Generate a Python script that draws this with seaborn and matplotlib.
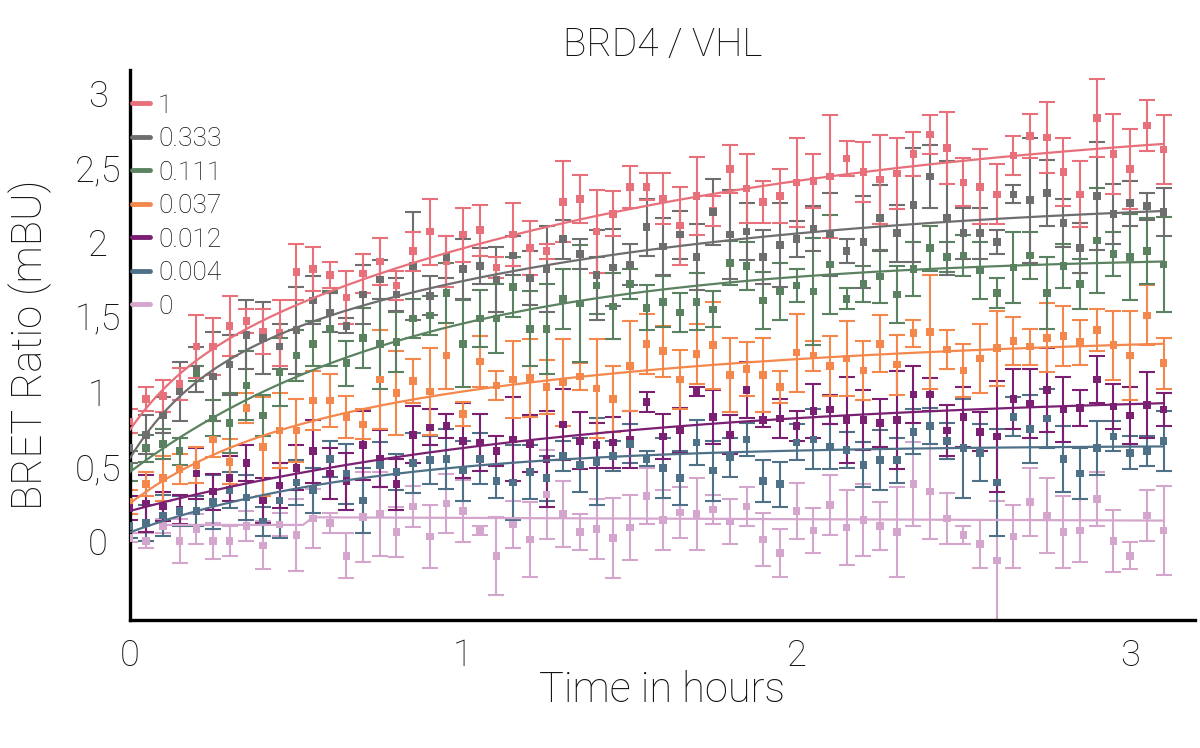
import numpy as np
import pandas as pd
import matplotlib as mpl
mpl.use("Agg")
import matplotlib.pyplot as plt
import seaborn as sns

sns.set_style("white")
plt.rcParams["font.family"] = ["Roboto", "DejaVu Sans"]
plt.rcParams["font.weight"] = "light"
plt.rcParams["axes.titleweight"] = "light"
plt.rcParams["axes.labelweight"] = "light"

# sampling every 3 minutes, 0 .. 3.1 h
time_h = np.round(np.arange(63) * 0.05, 2)

conc_labels = ["1", "0.333", "0.111", "0.037", "0.012", "0.004", "0"]
colors = ["#e8707a", "#6e6e6e", "#5b8260", "#f4874b", "#7b1f73", "#4e7187", "#d5a6cd"]

ratio_1 = [0.80, 0.95, 0.97, 1.05, 1.30, 1.30, 1.44, 1.47, 1.40, 1.39, 1.80, 1.82, 1.78, 1.63, 1.79, 1.87,
           1.71, 1.94, 2.07, 1.87, 2.05, 2.08, 1.83, 2.05, 1.96, 1.94, 2.27, 2.29, 2.07, 2.19, 2.37, 2.37,
           2.29, 2.11, 2.31, 2.21, 2.49, 2.36, 2.27, 2.31, 2.40, 2.41, 2.44, 2.56, 2.47, 2.42, 2.46, 2.59,
           2.72, 2.63, 2.40, 2.37, 2.32, 2.58, 2.71, 2.70, 2.47, 2.32, 2.83, 2.59, 2.49, 2.78, 2.62]
sd_1 = [0.08, 0.08, 0.11, 0.11, 0.21, 0.19, 0.20, 0.08, 0.15, 0.22, 0.19, 0.15, 0.09, 0.18, 0.13, 0.16,
        0.10, 0.13, 0.22, 0.17, 0.18, 0.17, 0.07, 0.21, 0.18, 0.05, 0.27, 0.16, 0.28, 0.15, 0.14, 0.09,
        0.17, 0.26, 0.26, 0.10, 0.16, 0.23, 0.14, 0.18, 0.30, 0.18, 0.41, 0.12, 0.20, 0.30, 0.24, 0.15,
        0.13, 0.24, 0.16, 0.25, 0.20, 0.13, 0.15, 0.24, 0.23, 0.22, 0.26, 0.27, 0.27, 0.17, 0.23]

ratio_0333 = [0.62, 0.71, 0.84, 1.00, 1.15, 1.10, 1.18, 1.38, 1.36, 1.30, 1.41, 1.61, 1.53, 1.44, 1.65, 1.75,
              1.65, 1.84, 1.64, 1.90, 1.82, 1.84, 1.75, 1.91, 1.76, 1.82, 2.02, 1.92, 1.78, 1.83, 1.85, 2.10,
              1.97, 2.05, 1.90, 2.20, 2.05, 2.07, 1.90, 1.98, 2.02, 2.09, 2.05, 1.94, 2.00, 2.16, 2.06, 2.25,
              2.44, 2.16, 2.06, 2.06, 2.00, 2.32, 2.28, 2.33, 2.13, 1.96, 2.31, 2.19, 2.26, 2.24, 2.20]
sd_0333 = [0.10, 0.13, 0.12, 0.20, 0.15, 0.30, 0.20, 0.23, 0.24, 0.15, 0.29, 0.16, 0.13, 0.05, 0.20, 0.13,
           0.11, 0.36, 0.13, 0.14, 0.20, 0.12, 0.22, 0.13, 0.18, 0.29, 0.13, 0.10, 0.30, 0.26, 0.14, 0.19,
           0.19, 0.16, 0.22, 0.22, 0.30, 0.19, 0.18, 0.28, 0.12, 0.15, 0.28, 0.08, 0.31, 0.22, 0.19, 0.38,
           0.21, 0.38, 0.17, 0.17, 0.08, 0.06, 0.42, 0.22, 0.16, 0.17, 0.36, 0.20, 0.15, 0.09, 0.16]

ratio_0111 = [0.50, 0.62, 0.65, 0.60, 1.12, 0.82, 0.79, 1.04, 0.84, 1.13, 1.24, 1.32, 1.42, 1.19, 1.36, 1.32,
              1.33, 1.49, 1.51, 1.66, 1.32, 1.49, 1.49, 1.70, 1.42, 1.42, 1.62, 1.59, 1.71, 1.57, 1.72, 1.56,
              1.60, 1.53, 1.60, 1.55, 1.86, 1.84, 1.61, 1.67, 1.71, 1.67, 1.85, 1.62, 1.72, 1.77, 1.65, 1.82,
              1.96, 1.90, 1.91, 1.81, 1.66, 1.83, 1.91, 1.66, 1.84, 1.72, 2.01, 1.92, 1.90, 1.94, 1.85]
sd_0111 = [0.10, 0.09, 0.10, 0.09, 0.05, 0.12, 0.20, 0.23, 0.14, 0.23, 0.17, 0.15, 0.25, 0.15, 0.20, 0.30,
           0.20, 0.13, 0.13, 0.20, 0.29, 0.19, 0.23, 0.20, 0.25, 0.30, 0.20, 0.39, 0.19, 0.22, 0.10, 0.15,
           0.17, 0.13, 0.19, 0.12, 0.15, 0.16, 0.19, 0.19, 0.11, 0.36, 0.33, 0.07, 0.12, 0.18, 0.19, 0.18,
           0.15, 0.10, 0.14, 0.19, 0.10, 0.24, 0.16, 0.24, 0.15, 0.17, 0.35, 0.15, 0.29, 0.22, 0.32]

ratio_0037 = [0.26, 0.38, 0.42, 0.48, 0.51, 0.68, 0.53, 0.89, 0.63, 0.74, 0.74, 0.94, 0.94, 0.83, 0.78, 1.08,
              0.99, 1.07, 1.00, 1.24, 0.85, 1.20, 1.04, 1.08, 1.09, 1.03, 1.06, 1.10, 1.02, 0.95, 1.17, 1.32,
              1.27, 1.08, 1.25, 1.31, 1.11, 1.15, 1.11, 1.03, 1.26, 1.24, 1.17, 1.22, 1.14, 1.32, 1.18, 1.39,
              1.40, 1.28, 1.14, 1.22, 1.29, 1.34, 1.30, 1.36, 1.37, 1.33, 1.41, 1.31, 1.24, 1.51, 1.19]
sd_0037 = [0.08, 0.08, 0.15, 0.10, 0.12, 0.12, 0.15, 0.10, 0.33, 0.25, 0.21, 0.20, 0.18, 0.14, 0.10, 0.33,
           0.28, 0.15, 0.29, 0.22, 0.08, 0.17, 0.10, 0.26, 0.26, 0.18, 0.29, 0.09, 0.33, 0.22, 0.30, 0.20,
           0.17, 0.20, 0.20, 0.29, 0.25, 0.18, 0.25, 0.11, 0.26, 0.10, 0.20, 0.25, 0.20, 0.19, 0.20, 0.09,
           0.38, 0.13, 0.18, 0.23, 0.25, 0.16, 0.12, 0.23, 0.20, 0.15, 0.14, 0.23, 0.30, 0.20, 0.17]

ratio_0012 = [0.22, 0.25, 0.23, 0.21, 0.45, 0.33, 0.42, 0.52, 0.27, 0.37, 0.49, 0.60, 0.45, 0.40, 0.64, 0.55,
              0.38, 0.71, 0.76, 0.77, 0.67, 0.66, 0.60, 0.68, 0.65, 0.55, 0.78, 0.67, 0.64, 0.66, 0.68, 0.93,
              0.70, 0.74, 1.00, 0.83, 0.71, 1.01, 0.81, 0.82, 0.77, 0.87, 0.88, 0.81, 0.81, 0.79, 0.81, 0.98,
              0.98, 0.74, 0.83, 0.73, 0.70, 0.95, 0.92, 1.01, 0.88, 0.89, 1.08, 0.90, 0.84, 0.91, 0.88]
sd_0012 = [0.08, 0.19, 0.10, 0.10, 0.17, 0.12, 0.15, 0.12, 0.15, 0.15, 0.15, 0.21, 0.17, 0.19, 0.23, 0.19,
           0.17, 0.19, 0.12, 0.08, 0.25, 0.19, 0.10, 0.28, 0.19, 0.32, 0.24, 0.19, 0.15, 0.17, 0.19, 0.07,
           0.15, 0.15, 0.03, 0.18, 0.13, 0.19, 0.05, 0.13, 0.10, 0.18, 0.10, 0.29, 0.20, 0.16, 0.33, 0.19,
           0.11, 0.17, 0.20, 0.13, 0.37, 0.20, 0.23, 0.28, 0.22, 0.12, 0.16, 0.15, 0.19, 0.22, 0.11]

ratio_0004 = [0.10, 0.12, 0.17, 0.20, 0.20, 0.26, 0.34, 0.29, 0.13, 0.27, 0.39, 0.34, 0.55, 0.45, 0.27, 0.51,
              0.46, 0.52, 0.54, 0.55, 0.47, 0.55, 0.40, 0.39, 0.46, 0.42, 0.57, 0.51, 0.53, 0.57, 0.65, 0.55,
              0.49, 0.42, 0.66, 0.47, 0.56, 0.68, 0.40, 0.38, 0.66, 0.68, 0.63, 0.61, 0.51, 0.54, 0.54, 0.73,
              0.77, 0.67, 0.62, 0.59, 0.39, 0.83, 0.75, 0.82, 0.55, 0.45, 0.62, 0.70, 0.59, 0.60, 0.67]
sd_0004 = [0.08, 0.12, 0.14, 0.10, 0.10, 0.18, 0.12, 0.15, 0.10, 0.25, 0.15, 0.15, 0.12, 0.20, 0.22, 0.15,
           0.12, 0.20, 0.16, 0.20, 0.20, 0.17, 0.11, 0.25, 0.18, 0.15, 0.10, 0.18, 0.29, 0.10, 0.13, 0.05,
           0.20, 0.18, 0.15, 0.20, 0.13, 0.11, 0.14, 0.15, 0.12, 0.20, 0.15, 0.12, 0.15, 0.20, 0.15, 0.15,
           0.12, 0.12, 0.33, 0.19, 0.36, 0.13, 0.23, 0.20, 0.22, 0.17, 0.18, 0.10, 0.11, 0.10, 0.20]

ratio_0 = [0.02, 0.00, 0.10, 0.00, 0.08, 0.00, 0.00, 0.10, -0.03, 0.11, 0.04, 0.15, 0.12, -0.10, 0.16, 0.18,
           0.06, 0.23, 0.03, 0.25, 0.20, 0.07, -0.10, 0.11, 0.01, 0.31, 0.18, 0.06, 0.08, 0.02, 0.09, 0.30,
           0.14, 0.19, 0.18, 0.21, 0.13, 0.23, 0.01, -0.08, 0.20, 0.07, 0.24, 0.09, 0.14, 0.10, 0.06, 0.38,
           0.33, 0.15, 0.04, -0.02, -0.13, 0.03, 0.26, 0.17, 0.06, 0.07, 0.28, 0.00, -0.10, 0.17, 0.07]
sd_0 = [0.03, 0.05, 0.05, 0.15, 0.10, 0.12, 0.10, 0.10, 0.16, 0.08, 0.24, 0.20, 0.07, 0.15, 0.30, 0.28,
        0.17, 0.14, 0.21, 0.20, 0.21, 0.03, 0.26, 0.16, 0.25, 0.30, 0.22, 0.12, 0.20, 0.27, 0.22, 0.19,
        0.20, 0.17, 0.24, 0.10, 0.15, 0.13, 0.18, 0.16, 0.19, 0.15, 0.20, 0.25, 0.24, 0.16, 0.30, 0.28,
        0.32, 0.17, 0.06, 0.16, 0.40, 0.21, 0.23, 0.25, 0.24, 0.21, 0.18, 0.21, 0.09, 0.17, 0.30]

ratios = [ratio_1, ratio_0333, ratio_0111, ratio_0037, ratio_0012, ratio_0004, ratio_0]
sds = [sd_1, sd_0333, sd_0111, sd_0037, sd_0012, sd_0004, sd_0]

# association fits (two-phase: y0 + a1*(1-exp(-k1 t)) + a2*(1-exp(-k2 t)))
fit_y0 = [0.74, 0.55, 0.46, 0.25, 0.20, 0.057]
fit_a1 = [0.35, 0.49, 0.0, 0.33, 0.0, 0.0]
fit_k1 = [6.0, 5.4, 1.0, 3.3, 1.0, 1.0]
fit_a2 = [1.80, 1.275, 1.45, 0.82, 0.80, 0.583]
fit_k2 = [0.66, 0.80, 1.16, 0.75, 0.75, 1.4]
# the vehicle fit is a broken line
fit0_t = [0.10, 0.52, 0.55, 3.10]
fit0_y = [0.107, 0.107, 0.158, 0.136]

rows = []
fit_rows = []
tt = np.linspace(0, 3.1, 200)
for i, lab in enumerate(conc_labels):
    for t, r, s in zip(time_h, ratios[i], sds[i]):
        rows.append({"t": t, "ratio": r, "sd": s, "conc": lab})
    if i < len(fit_y0):
        yy = (fit_y0[i] + fit_a1[i] * (1 - np.exp(-fit_k1[i] * tt))
              + fit_a2[i] * (1 - np.exp(-fit_k2[i] * tt)))
        for a, b in zip(tt, yy):
            fit_rows.append({"t": a, "fit": b, "conc": lab})
    else:
        for a, b in zip(fit0_t, fit0_y):
            fit_rows.append({"t": a, "fit": b, "conc": lab})
df = pd.DataFrame(rows)
fit_df = pd.DataFrame(fit_rows)
pal = dict(zip(conc_labels, colors))

fig = plt.figure(figsize=(12, 7.48), dpi=100)
ax = fig.add_axes([0.108, 0.171, 0.888, 0.735])

for lab in conc_labels[::-1]:
    d = df[df.conc == lab]
    ax.errorbar(d.t, d.ratio, yerr=d.sd, fmt="none", ecolor=pal[lab], elinewidth=1.5,
                capsize=5.8, capthick=1.5, zorder=2)
sns.scatterplot(data=df, x="t", y="ratio", hue="conc", hue_order=conc_labels[::-1], palette=pal,
                marker="s", s=30, linewidth=0, legend=False, ax=ax, zorder=3)
sns.lineplot(data=fit_df, x="t", y="fit", hue="conc", hue_order=conc_labels, palette=pal,
             linewidth=1.6, sort=True, estimator=None, ax=ax, zorder=4)

ax.set_xlim(0, 3.195)
ax.set_ylim(-0.53, 3.15)
ax.set_xticks([0, 1, 2, 3])
ax.set_xticklabels(["0", "1", "2", "3"])
ax.set_yticks([0, 0.5, 1, 1.5, 2, 2.5, 3])
ax.set_yticklabels(["0", "0,5", "1", "1,5", "2", "2,5", "3"])
ax.tick_params(axis="x", length=8, width=1.8, direction="out", labelsize=26, pad=5,
               colors="black", labelcolor="#111111")
ax.tick_params(axis="y", length=0, labelsize=26, pad=23, labelcolor="#111111")
for lbl in ax.get_yticklabels():
    lbl.set_horizontalalignment("center")
sns.despine(ax=ax)
for side in ["left", "bottom"]:
    ax.spines[side].set_linewidth(2.4)
    ax.spines[side].set_color("black")

ax.set_xlabel("Time in hours", fontsize=30, labelpad=-3, color="#111111")
ax.set_ylabel("BRET Ratio (mBU)", fontsize=30, labelpad=16, color="#111111")
ax.set_title("BRD4 / VHL", fontsize=28, pad=10, color="#111111")

handles, labels = ax.get_legend_handles_labels()
leg = ax.legend(handles, labels, loc="upper left", bbox_to_anchor=(-0.003, 0.967), frameon=False,
                fontsize=19, handlelength=0.7, handletextpad=0.3, labelspacing=0.36,
                borderaxespad=0, borderpad=0.2, labelcolor="#111111")
for h in leg.get_lines():
    h.set_linewidth(3.5)

fig.savefig("out.png", dpi=100)
